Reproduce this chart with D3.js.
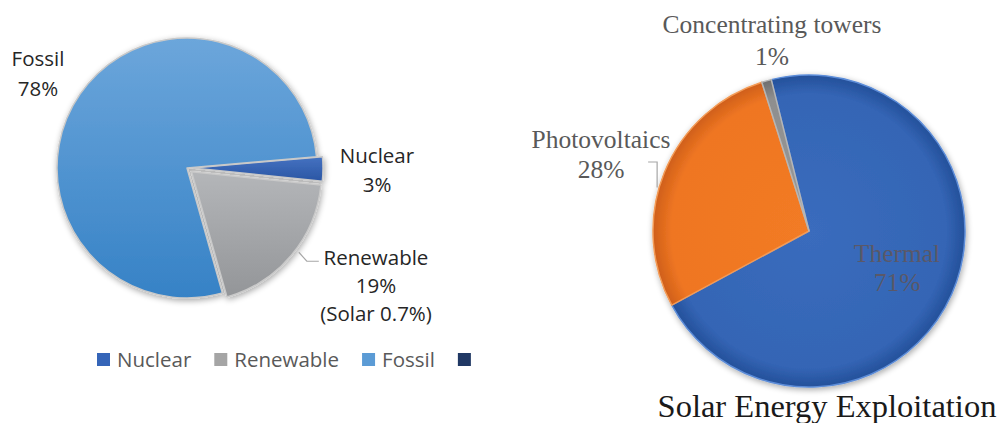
<!DOCTYPE html>
<html lang="en">
<head>
    <meta charset="UTF-8">
    <title>Energy shares</title>
    <style>
        body { margin: 0; background: #fff; }
        svg { display: block; }
    </style>
</head>
<body>
    <div id="chart"></div>
    <script src="https://d3js.org/d3.v7.min.js"></script>
    <script>
        // left pie: world energy mix
        const energySources = ['Nuclear', 'Renewable', 'Fossil']
        const energyShares = [3, 19, 78]
        const solarNote = '(Solar 0.7%)'
        const legendLabels = ['Nuclear', 'Renewable', 'Fossil', '']

        // right pie: solar energy exploitation
        const solarTypes = ['Thermal', 'Photovoltaics', 'Concentrating towers']
        const solarShares = [71, 28, 1]
        const solarTitle = 'Solar Energy Exploitation'

        const width = 1000
        const height = 423
        const deg = Math.PI / 180

        const svg = d3.select('#chart').append('svg')
            .attr('width', width)
            .attr('height', height)

        const defs = svg.append('defs')

        // gradients are in the pie group's own coordinates (centre = 0,0)
        function linGrad(id, top, bottom, y1, y2) {
            const g = defs.append('linearGradient')
                .attr('id', id)
                .attr('gradientUnits', 'userSpaceOnUse')
                .attr('x1', 0).attr('x2', 0).attr('y1', y1).attr('y2', y2)
            g.append('stop').attr('offset', '0%').attr('stop-color', top)
            g.append('stop').attr('offset', '100%').attr('stop-color', bottom)
        }
        function radGrad(id, inner, mid, outer, r) {
            const g = defs.append('radialGradient')
                .attr('id', id)
                .attr('gradientUnits', 'userSpaceOnUse')
                .attr('cx', 0).attr('cy', 0).attr('r', r)
            g.append('stop').attr('offset', '0%').attr('stop-color', inner)
            g.append('stop').attr('offset', '88%').attr('stop-color', mid)
            g.append('stop').attr('offset', '100%').attr('stop-color', outer)
        }

        const shadow = defs.append('filter').attr('id', 'shadow')
            .attr('x', '-20%').attr('y', '-20%').attr('width', '140%').attr('height', '140%')
        shadow.append('feGaussianBlur').attr('in', 'SourceAlpha').attr('stdDeviation', 3)
        shadow.append('feOffset').attr('dx', 1).attr('dy', 2).attr('result', 'b')
        shadow.append('feComponentTransfer').attr('in', 'b').attr('result', 'b2')
            .append('feFuncA').attr('type', 'linear').attr('slope', 0.35)
        const merge = shadow.append('feMerge')
        merge.append('feMergeNode').attr('in', 'b2')
        merge.append('feMergeNode').attr('in', 'SourceGraphic')

        // ---------- left pie ----------
        const L = { cx: 187, cy: 168, r: 130 }
        linGrad('gFossil', '#6ca6db', '#3682c6', -L.r, L.r)
        linGrad('gNuclear', '#4673c2', '#2b57a5', -12, 12)
        linGrad('gRenew', '#b4b6b9', '#929497', 0, L.r)
        const leftFill = { Nuclear: 'url(#gNuclear)', Renewable: 'url(#gRenew)', Fossil: 'url(#gFossil)' }
        const explode = { Nuclear: 6, Renewable: 6, Fossil: 0 }

        const leftPie = d3.pie().sort(null).startAngle(85 * deg).endAngle(445 * deg)
        const leftArcs = leftPie(energyShares).map((d, i) => ({ ...d, name: energySources[i] }))
        const arcL = d3.arc().innerRadius(0).outerRadius(L.r)

        const gl = svg.append('g').attr('transform', `translate(${L.cx},${L.cy})`)
            .attr('filter', 'url(#shadow)')
        gl.selectAll('path')
            .data(leftArcs)
            .join('path')
            .attr('d', arcL)
            .attr('transform', d => {
                const a = (d.startAngle + d.endAngle) / 2
                const e = explode[d.name]
                return `translate(${e * Math.sin(a)},${-e * Math.cos(a)})`
            })
            .attr('fill', d => leftFill[d.name])
            .attr('stroke', '#c9c9c9')
            .attr('stroke-width', 1.5)
            .attr('stroke-linejoin', 'round')

        const leftFont = '"Open Sans", sans-serif'
        const labelColor = '#262626'
        function labelBlock(x, y, lines, size, family, color, gap) {
            const t = svg.append('text')
                .attr('text-anchor', 'middle')
                .attr('font-family', family)
                .attr('font-size', size)
                .attr('fill', color)
            lines.forEach((s, i) => t.append('tspan').attr('x', x).attr('y', y + i * gap).text(s))
        }
        const pct = d => `${d}%`

        labelBlock(38, 66, [energySources[2], pct(energyShares[2])], 20.5, leftFont, labelColor, 30)
        labelBlock(377, 163, [energySources[0], pct(energyShares[0])], 20.5, leftFont, labelColor, 29)
        labelBlock(376, 265, [energySources[1], pct(energyShares[1]), solarNote], 20.5, leftFont, labelColor, 28)

        // leader for Renewable
        const ren = leftArcs[1]
        const renMid = (ren.startAngle + ren.endAngle) / 2 - 3 * deg
        const rr = L.r + explode.Renewable + 4
        const p0 = [L.cx + rr * Math.sin(renMid), L.cy - rr * Math.cos(renMid)]
        svg.append('path')
            .attr('d', d3.line()([p0, [p0[0] + 8, p0[1] + 9], [p0[0] + 20, p0[1] + 9]]))
            .attr('fill', 'none')
            .attr('stroke', '#a6a6a6')
            .attr('stroke-width', 1.2)

        // legend
        const legendColors = ['#3565b8', '#a5a5a5', '#5b9bd5', '#203864']
        const lg = svg.append('g').attr('transform', 'translate(97,367)')
        let lx = 0
        legendLabels.forEach((name, i) => {
            lg.append('rect').attr('x', lx).attr('y', -14).attr('width', 13).attr('height', 13)
                .attr('fill', legendColors[i])
            const t = lg.append('text').attr('x', lx + 20).attr('y', 0)
                .attr('font-family', leftFont).attr('font-size', 20.5).attr('fill', '#595959')
                .text(name)
            lx += 20 + t.node().getComputedTextLength() + 23
        })

        // ---------- right pie ----------
        const R = { cx: 809, cy: 231, r: 156 }
        radGrad('gThermal', '#3a6cbd', '#3465b5', '#24509a', R.r)
        radGrad('gPV', '#f27b25', '#ef7622', '#cf5f1a', R.r)
        radGrad('gCT', '#9a9a9a', '#8e8e8e', '#6e6e6e', R.r)
        const rightFill = { 'Thermal': 'url(#gThermal)', 'Photovoltaics': 'url(#gPV)', 'Concentrating towers': 'url(#gCT)' }
        const rightEdge = { 'Thermal': '#5b8cd8', 'Photovoltaics': '#f39a55', 'Concentrating towers': '#b5b5b5' }

        const rightPie = d3.pie().sort(null).startAngle(-14 * deg).endAngle(346 * deg)
        const rightArcs = rightPie(solarShares).map((d, i) => ({ ...d, name: solarTypes[i] }))
        const arcR = d3.arc().innerRadius(0).outerRadius(R.r)

        const gr = svg.append('g').attr('transform', `translate(${R.cx},${R.cy})`)
            .attr('filter', 'url(#shadow)')
        gr.selectAll('path')
            .data(rightArcs)
            .join('path')
            .attr('d', arcR)
            .attr('fill', d => rightFill[d.name])
            .attr('stroke', d => rightEdge[d.name])
            .attr('stroke-width', 1.5)
            .attr('stroke-linejoin', 'round')

        const serif = '"Liberation Serif", "Times New Roman", serif'
        labelBlock(772, 33, [solarTypes[2], pct(solarShares[2])], 25.5, serif, '#595959', 32)
        labelBlock(601, 148, [solarTypes[1], pct(solarShares[1])], 25.5, serif, '#595959', 30)
        labelBlock(897, 262, [solarTypes[0], pct(solarShares[0])], 25.5, serif, '#5a5868', 29)

        // leader for Photovoltaics
        const pv = rightArcs[1]
        const pvMid = (pv.startAngle + pv.endAngle) / 2 - 6 * deg
        const q0 = [R.cx + (R.r + 2) * Math.sin(pvMid), R.cy - (R.r + 2) * Math.cos(pvMid)]
        svg.append('path')
            .attr('d', d3.line()([q0, [q0[0], 162], [q0[0] - 9, 162]]))
            .attr('fill', 'none')
            .attr('stroke', '#a6a6a6')
            .attr('stroke-width', 1.2)

        svg.append('text')
            .attr('x', 827).attr('y', 417)
            .attr('text-anchor', 'middle')
            .attr('font-family', serif)
            .attr('font-size', 32.5)
            .attr('fill', '#1a1a1a')
            .text(solarTitle)
    </script>
</body>
</html>
